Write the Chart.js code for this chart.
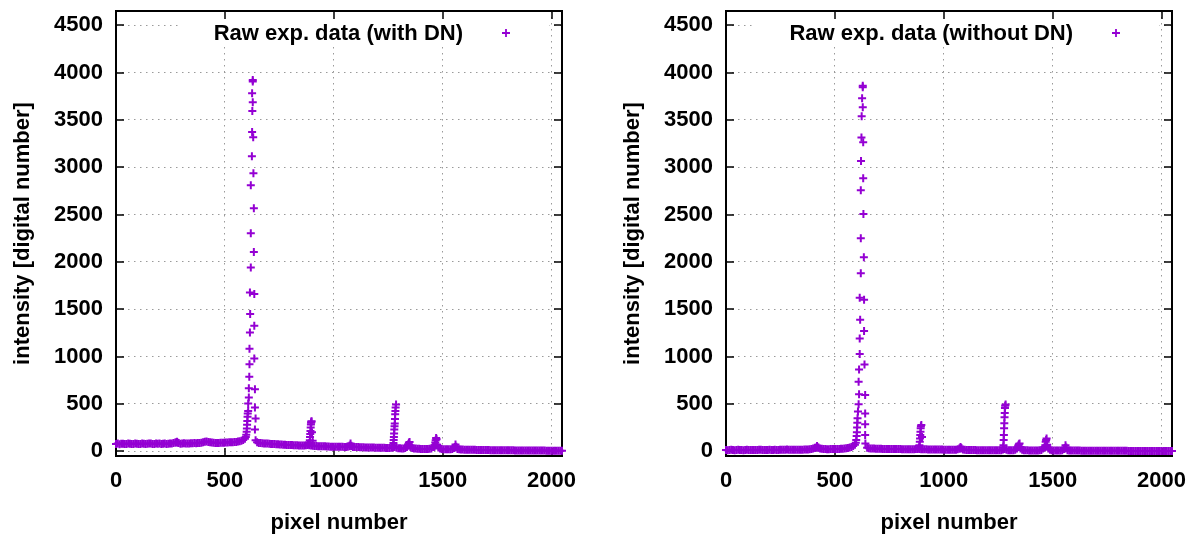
<!DOCTYPE html>
<html>
<head>
<meta charset="utf-8">
<title>Raw spectra</title>
<script src="https://cdn.jsdelivr.net/npm/chart.js@4.4.1/dist/chart.umd.min.js"></script>
<style>
  body { margin: 0; background: #fff; }
  #wrap { position: relative; width: 1195px; height: 534px; }
  #left-panel { position: absolute; left: 0; top: 0; }
  #right-panel { position: absolute; left: 610px; top: 0; }
</style>
</head>
<body>
<div id="wrap">
  <canvas id="left-panel" width="610" height="534"></canvas>
  <canvas id="right-panel" width="585" height="534"></canvas>
</div>
<script>
// pixel numbers of the sampled detector baseline
const pixelGrid = [
  0, 8, 16, 24, 32, 40, 48, 56, 64, 72, 80, 88, 96, 104, 112, 120, 128, 136, 144, 152, 160, 168, 176, 184,
  192, 200, 208, 216, 224, 232, 240, 248, 256, 264, 272, 280, 288, 296, 304, 312, 320, 328, 336, 344, 352, 360,
  368, 376, 384, 392, 400, 408, 416, 424, 432, 440, 448, 456, 464, 472, 480, 488, 496, 504, 512, 520, 528, 536,
  544, 552, 560, 568, 576, 584, 592, 600, 608, 616, 624, 632, 640, 648, 656, 664, 672, 680, 688, 696, 704, 712,
  720, 728, 736, 744, 752, 760, 768, 776, 784, 792, 800, 808, 816, 824, 832, 840, 848, 856, 864, 872, 880, 888,
  896, 904, 912, 920, 928, 936, 944, 952, 960, 968, 976, 984, 992, 1000, 1008, 1016, 1024, 1032, 1040, 1048,
  1056, 1064, 1072, 1080, 1088, 1096, 1104, 1112, 1120, 1128, 1136, 1144, 1152, 1160, 1168, 1176, 1184, 1192,
  1200, 1208, 1216, 1224, 1232, 1240, 1248, 1256, 1264, 1272, 1280, 1288, 1296, 1304, 1312, 1320, 1328, 1336,
  1344, 1352, 1360, 1368, 1376, 1384, 1392, 1400, 1408, 1416, 1424, 1432, 1440, 1448, 1456, 1464, 1472, 1480,
  1488, 1496, 1504, 1512, 1520, 1528, 1536, 1544, 1552, 1560, 1568, 1576, 1584, 1592, 1600, 1608, 1616, 1624,
  1632, 1640, 1648, 1656, 1664, 1672, 1680, 1688, 1696, 1704, 1712, 1720, 1728, 1736, 1744, 1752, 1760, 1768,
  1776, 1784, 1792, 1800, 1808, 1816, 1824, 1832, 1840, 1848, 1856, 1864, 1872, 1880, 1888, 1896, 1904, 1912,
  1920, 1928, 1936, 1944, 1952, 1960, 1968, 1976, 1984, 1992, 2000, 2008, 2016, 2024, 2032, 2040, 2048
];

// baseline with dark noise (null where the main line takes over)
const baseWithDN = [
  78, 82, 75, 80, 79, 76, 77, 81, 80, 77, 78, 82, 79, 77, 76, 81, 80, 77, 79, 82, 81, 78, 77, 81,
  80, 83, 78, 80, 82, 78, 80, 83, 82, 86, 92, 98, 86, 80, 82, 84, 83, 81, 82, 85, 84, 86,
  85, 88, 88, 91, 95, 100, 104, 99, 94, 92, 90, 87, 88, 86, 89, 91, 90, 92, 92, 94, 94, 96,
  97, 99, 102, 106, 112, 120, 132, null, null, null, null, null, null, 96, 88, 86, 84, 83, 82, 81, 80, 78,
  77, 76, 75, 73, 72, 71, 70, 68, 67, 66, 66, 65, 64, 64, 63, 62, 62, 62, 62, 63, 66, 64,
  60, 58, 56, 55, 54, 53, 52, 52, 52, 51, 50, 49, 49, 48, 48, 48, 48, 47, 47, 46,
  46, 48, 52, 55, 46, 45, 44, 44, 43, 42, 42, 41, 41, 40, 40, 39, 39, 38,
  38, 37, 37, 36, 36, 35, 35, 35, 36, 40, 45, 38, 32, 31, 30, 30, 34, 45,
  60, 45, 35, 30, 28, 27, 26, 25, 25, 24, 24, 25, 26, 30, 45, 60, 70, 40,
  30, 24, 22, 21, 21, 20, 20, 24, 35, 40, 24, 20, 18, 18, 17, 17, 16, 16,
  15, 15, 15, 14, 14, 14, 14, 13, 13, 13, 13, 12, 12, 12, 12, 11, 11, 11,
  11, 10, 10, 10, 10, 10, 10, 9, 9, 9, 9, 9, 9, 8, 8, 8, 8, 8,
  8, 7, 7, 7, 7, 7, 7, 6, 6, 6, 6, 6, 6, 5, 5, 5, 5
];

// baseline after dark-noise subtraction
const baseWithoutDN = [
  14, 12, 13, 15, 14, 12, 13, 15, 14, 13, 12, 14, 15, 13, 13, 14, 14, 13, 13, 15, 15, 14, 13, 14,
  14, 15, 13, 14, 15, 14, 14, 15, 15, 16, 17, 19, 16, 15, 16, 16, 17, 16, 16, 17, 17, 18,
  18, 19, 21, 25, 30, 36, 42, 36, 30, 27, 24, 23, 22, 22, 23, 23, 24, 24, 25, 25, 26, 27,
  28, 31, 35, 40, 46, 55, 70, null, null, null, null, null, null, 36, 31, 30, 28, 28, 27, 27, 26, 26,
  25, 25, 25, 24, 24, 24, 24, 23, 23, 23, 23, 22, 22, 22, 22, 21, 21, 21, 22, 23, 25, 24,
  22, 21, 20, 20, 19, 19, 19, 18, 18, 18, 18, 18, 18, 17, 17, 17, 17, 17, 17, 17,
  17, 20, 30, 32, 18, 15, 14, 14, 13, 13, 13, 13, 12, 12, 12, 12, 12, 11,
  11, 11, 11, 11, 11, 11, 11, 11, 12, 18, 25, 16, 12, 11, 11, 12, 16, 28,
  45, 28, 15, 11, 10, 10, 9, 9, 9, 9, 9, 9, 10, 14, 30, 45, 55, 28,
  15, 10, 8, 8, 8, 8, 8, 12, 25, 30, 12, 8, 7, 7, 7, 7, 7, 7,
  6, 6, 6, 6, 6, 6, 6, 6, 6, 6, 6, 5, 5, 5, 5, 5, 5, 5,
  5, 5, 5, 5, 5, 5, 5, 5, 5, 4, 4, 4, 4, 4, 4, 4, 4, 4,
  4, 4, 4, 4, 4, 4, 4, 4, 4, 4, 4, 4, 4, 4, 4, 4, 4
];

// main emission line, with dark noise
const peakXWithDN = [596, 598, 600, 601, 602, 603, 604, 605, 607, 607, 610, 610, 612, 613, 613, 615, 616, 615, 619, 619,
  619, 624, 625, 626, 625, 628, 628, 628, 630, 631, 633, 633, 635, 635, 635, 638, 638, 641, 638, 641];
const peakYWithDN = [150, 175, 205, 240, 280, 320, 365, 398, 426, 504, 568, 666, 786, 920, 1082, 1255, 1449, 1678, 1940, 2302,
  2809, 3116, 3373, 3595, 3782, 3905, 3920, 3687, 3317, 2936, 2566, 2104, 1660, 1325, 980, 655, 462, 346, 229, 116];

// main emission line, dark noise removed
const peakXWithoutDN = [596, 598, 600, 601, 602, 603, 604, 606, 609, 611, 609, 611, 614, 614, 616, 614, 619, 619, 619, 620,
  622, 623, 625, 628, 628, 628, 630, 630, 631, 633, 634, 634, 636, 639, 639, 639, 639, 640];
const peakYWithoutDN = [90, 120, 160, 200, 250, 300, 350, 420, 497, 603, 733, 864, 1026, 1192, 1388, 1621, 1879, 2249, 2756, 3066,
  3313, 3539, 3729, 3845, 3860, 3634, 3264, 2883, 2506, 2048, 1600, 1269, 917, 595, 399, 285, 172, 81];

// weaker lines and bumps
const lineXWithDN = [276, 280, 284, 886, 888, 890, 891, 892, 893, 894, 895, 896, 897, 898, 900, 903,
  1073, 1077, 1081, 1272, 1274, 1275, 1276, 1277, 1278, 1279, 1280, 1281, 1282, 1283, 1284, 1286,
  1338, 1342, 1345, 1348, 1352, 1462, 1464, 1466, 1468, 1470, 1472, 1475, 1555, 1559, 1563];
const lineYWithDN = [92, 100, 90, 75, 88, 116, 151, 183, 215, 250, 282, 300, 312, 318, 200, 110,
  60, 82, 58, 60, 88, 120, 151, 187, 230, 264, 293, 340, 391, 426, 462, 495,
  55, 75, 90, 99, 60, 45, 63, 92, 116, 141, 128, 70, 45, 71, 48];

const lineXWithoutDN = [410, 418, 424, 886, 888, 890, 891, 892, 893, 894, 895, 897, 900,
  1073, 1077, 1081, 1272, 1274, 1275, 1276, 1277, 1278, 1279, 1280, 1281, 1282, 1284,
  1338, 1342, 1345, 1348, 1352, 1464, 1466, 1468, 1470, 1472, 1475, 1555, 1559, 1563];
const lineYWithoutDN = [35, 55, 40, 40, 64, 100, 136, 171, 207, 243, 265, 278, 150,
  30, 46, 32, 40, 64, 118, 171, 243, 296, 360, 403, 457, 480, 493,
  40, 60, 75, 82, 45, 40, 64, 100, 120, 136, 70, 35, 64, 40];

const xTicks = [0, 500, 1000, 1500, 2000];
const yTicks = [0, 500, 1000, 1500, 2000, 2500, 3000, 3500, 4000, 4500];

const PURPLE = '#9400d3';
const FAMILY = '"Liberation Sans", Arial, sans-serif';
const FONT_SIZE = 22;

function toPoints(xs, ys) {
    const pts = [];
    xs.forEach((x, i) => { if (ys[i] !== null) pts.push({ x: x, y: ys[i] }); });
    return pts;
}

// gnuplot look: opaque key box, heavy frame, inward ticks on all four sides
const gnuplotFrame = {
    id: 'gnuplotFrame',
    beforeDatasetsDraw(chart, args, opts) {
        const { ctx, chartArea: a } = chart;
        const xs = chart.scales.x, ys = chart.scales.y;
        ctx.save();
        ctx.font = `bold ${FONT_SIZE}px ${FAMILY}`;
        const textRight = a.right - 99;
        const textLeft = textRight - ctx.measureText(opts.label).width;
        ctx.fillStyle = '#fff';
        ctx.fillRect(textLeft - 34, a.top + 1, (a.right - 13) - (textLeft - 34), 35);

        ctx.strokeStyle = '#000';
        ctx.lineWidth = 2;
        ctx.strokeRect(a.left, a.top, a.right - a.left, a.bottom - a.top);

        ctx.lineWidth = 1.5;
        ctx.beginPath();
        xTicks.forEach(v => {
            const px = Math.round(xs.getPixelForValue(v));
            ctx.moveTo(px, a.bottom); ctx.lineTo(px, a.bottom - 8);
            ctx.moveTo(px, a.top); ctx.lineTo(px, a.top + 8);
        });
        yTicks.forEach(v => {
            const py = Math.round(ys.getPixelForValue(v));
            ctx.moveTo(a.left, py); ctx.lineTo(a.left + 8, py);
            ctx.moveTo(a.right, py); ctx.lineTo(a.right - 8, py);
        });
        ctx.stroke();

        ctx.fillStyle = '#000';
        ctx.textAlign = 'right';
        ctx.textBaseline = 'middle';
        ctx.fillText(opts.label, textRight, a.top + 23);

        const mx = a.right - 56, my = a.top + 22, r = 4;
        ctx.strokeStyle = PURPLE;
        ctx.lineWidth = 1.8;
        ctx.beginPath();
        ctx.moveTo(mx - r, my); ctx.lineTo(mx + r, my);
        ctx.moveTo(mx, my - r); ctx.lineTo(mx, my + r);
        ctx.stroke();
        ctx.restore();
    }
};

function drawSpectrum(canvasId, label, base, peakX, peakY, lineX, lineY, padRight) {
    const points = toPoints(pixelGrid, base)
        .concat(toPoints(peakX, peakY))
        .concat(toPoints(lineX, lineY));
    const tickFont = { family: FAMILY, size: FONT_SIZE, weight: 'bold' };
    const titleFont = { family: FAMILY, size: FONT_SIZE, weight: 'bold', lineHeight: 1.05 };

    return new Chart(document.getElementById(canvasId), {
        type: 'scatter',
        data: {
            datasets: [{
                label: label,
                data: points,
                pointStyle: 'cross',
                pointRadius: 4,
                pointBorderWidth: 2,
                borderColor: PURPLE,
                backgroundColor: PURPLE,
                showLine: false,
                clip: false
            }]
        },
        options: {
            responsive: false,
            animation: false,
            layout: { padding: { left: 0, top: 11, right: padRight, bottom: 0 } },
            plugins: {
                legend: { display: false },
                tooltip: { enabled: false },
                gnuplotFrame: { label: label }
            },
            scales: {
                x: {
                    type: 'linear',
                    min: 0,
                    max: 2048,
                    afterFit: s => { s.height = 78; s.paddingLeft = 0; s.paddingRight = 0; },
                    afterBuildTicks: s => { s.ticks = xTicks.map(v => ({ value: v })); },
                    ticks: { font: tickFont, color: '#000', padding: 12, maxRotation: 0, callback: v => String(v) },
                    grid: { color: '#9a9a9a', lineWidth: 1, drawTicks: false },
                    border: { display: false, dash: [1.5, 4.5] },
                    title: { display: true, text: 'pixel number', font: titleFont, color: '#000', padding: { top: 0, bottom: 0 } }
                },
                y: {
                    type: 'linear',
                    min: -50,
                    max: 4650,
                    afterFit: s => { s.width = 116; s.paddingTop = 0; s.paddingBottom = 0; },
                    afterBuildTicks: s => { s.ticks = yTicks.map(v => ({ value: v })); },
                    ticks: { font: tickFont, color: '#000', padding: 13, callback: v => String(v) },
                    grid: { color: '#9a9a9a', lineWidth: 1, drawTicks: false },
                    border: { display: false, dash: [1.5, 4.5] },
                    title: { display: true, text: 'intensity [digital number]', font: titleFont, color: '#000', padding: { top: 11, bottom: 0 } }
                }
            }
        },
        plugins: [gnuplotFrame]
    });
}

drawSpectrum('left-panel', 'Raw exp. data (with DN)', baseWithDN, peakXWithDN, peakYWithDN, lineXWithDN, lineYWithDN, 48);
drawSpectrum('right-panel', 'Raw exp. data (without DN)', baseWithoutDN, peakXWithoutDN, peakYWithoutDN, lineXWithoutDN, lineYWithoutDN, 23);
</script>
</body>
</html>
